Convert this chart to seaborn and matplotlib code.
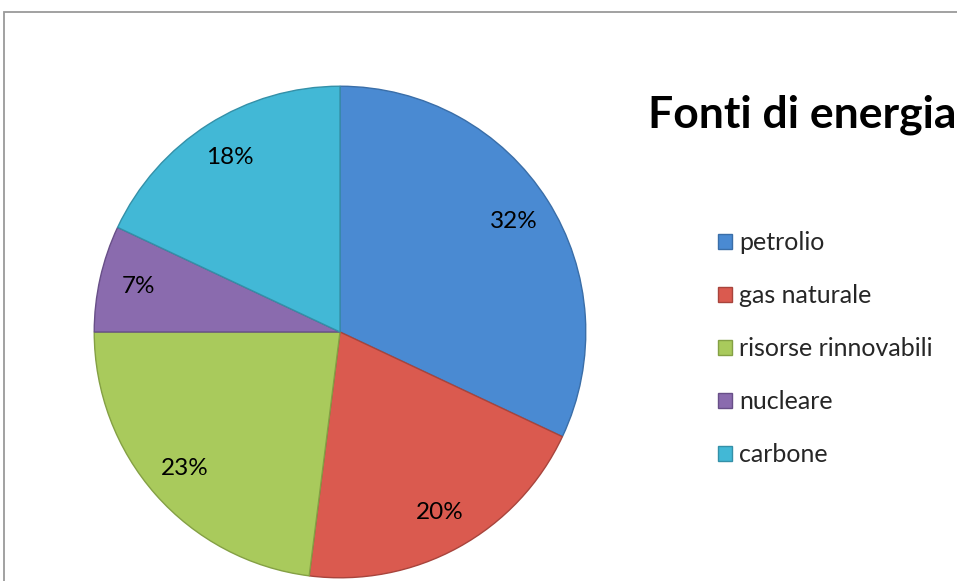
import matplotlib
matplotlib.use("Agg")
import matplotlib.pyplot as plt
import seaborn as sns
from matplotlib.patches import Rectangle

# dati
fonti = ["petrolio", "gas naturale", "risorse rinnovabili", "nucleare", "carbone"]
percentuali = [32, 20, 23, 7, 18]
colori = ["#4A8AD2", "#DA5A4F", "#A9CA5C", "#8A6BAE", "#42B8D6"]
bordi = ["#3A6EA8", "#A8443C", "#84A044", "#684F88", "#3490A8"]

sns.set_theme(style="white")
plt.rcParams["font.family"] = ["Lato", "DejaVu Sans"]

W, H = 957, 581
fig = plt.figure(figsize=(W / 100, H / 100), dpi=100)

# cornice grigia
fig.add_artist(Rectangle((4 / W, -0.1), 2, (H - 12) / H + 0.1,
                         transform=fig.transFigure, fill=False,
                         edgecolor="#9a9a9a", lw=1.3))

# torta: centro (340, 332), raggio 247 px
cx, cy, r = 340, 332, 247
ax = fig.add_axes([(cx - r) / W, (H - cy - r) / H, 2 * r / W, 2 * r / H])
wedges, texts, autotexts = ax.pie(
    percentuali,
    colors=sns.color_palette(colori),
    startangle=90,
    counterclock=False,
    autopct="%d%%",
    pctdistance=0.84,
    wedgeprops=dict(linewidth=1.0),
    textprops=dict(fontsize=17.5, color="black"),
)
for w, b in zip(wedges, bordi):
    w.set_edgecolor(b)
ax.set_xlim(-1.005, 1.005)
ax.set_ylim(-1.005, 1.005)
ax.set_aspect("equal")
ax.axis("off")

# titolo
fig.text(648 / W, 1 - 115 / H, "Fonti di energia", fontsize=32,
         fontweight="bold", ha="left", va="center", color="black")

# legenda
leg = fig.legend(wedges, fonti, loc="upper left",
                 bbox_to_anchor=(718 / W, 1 - 231 / H),
                 frameon=False, fontsize=18,
                 handlelength=0.55, handleheight=0.55,
                 handletextpad=0.3, labelspacing=1.2, borderpad=0,
                 borderaxespad=0)

fig.savefig("out.png", dpi=100)
